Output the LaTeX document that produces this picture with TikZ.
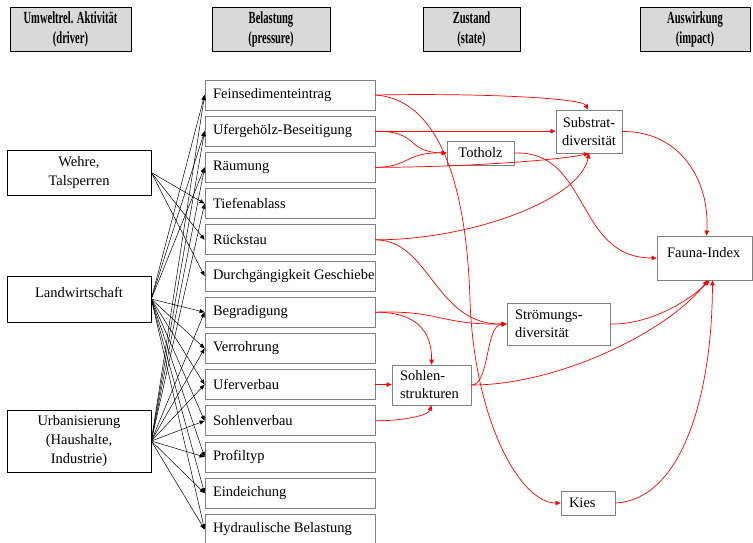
\documentclass[tikz,border=0pt]{standalone}
\usepackage{fontspec}
\setmainfont{Liberation Serif}
\newfontfamily\hdrfont[FakeStretch=0.62]{Liberation Serif}
\usetikzlibrary{arrows.meta}
\definecolor{boxgray}{RGB}{128,128,128}
\definecolor{hdrfill}{RGB}{217,217,217}

\begin{document}
\begin{tikzpicture}[x=1pt,y=-1pt,
  every node/.style={font=\fontsize{14.5}{19}\selectfont, inner sep=0pt},
  hdr/.style={draw=black, fill=hdrfill, line width=0.8pt, minimum width=#1,
    minimum height=44, align=center, font=\hdrfont\bfseries\fontsize{17}{20}\selectfont},
  driver/.style={draw=black, line width=0.6pt, minimum width=144, align=center},
  press/.style={draw=boxgray, line width=0.8pt, minimum width=170, minimum height=30},
  stbox/.style={draw=boxgray, line width=0.8pt},
  blk/.style={-{Triangle[length=5pt,width=4pt]}, line width=0.5pt},
  redarr/.style={red, line width=0.7pt, -{Triangle[length=5pt,width=4.5pt]}},
]
\newcommand\ptext[1]{\makebox[154pt][l]{\raisebox{-1pt}{#1}}}
\useasboundingbox (0,0) rectangle (753,542);
\clip (0,0) rectangle (753,542);

% column headers
\node[hdr=121] (h1) at (70.5,29) {Umweltrel. Aktivität\\(driver)};
\node[hdr=118] (h2) at (271,29) {Belastung\\(pressure)};
\node[hdr=97]  (h3) at (471.5,29) {Zustand\\(state)};
\node[hdr=110] (h4) at (695,29) {Auswirkung\\(impact)};

% drivers
\node[driver, minimum height=45] (wehre) at (79,172.5) {Wehre,\\Talsperren};
\node[driver, minimum height=46] (landw) at (79,299) {Landwirtschaft\\[-5pt]~};
\node[driver, minimum height=62] (urban) at (79,441) {Urbanisierung\\(Haushalte,\\Industrie)};

% pressures
\node[press] (fein)   at (290,95)    {\ptext{Feinsedimenteintrag}};
\node[press] (ufer)   at (290,131.2) {\ptext{Ufergehölz-Beseitigung}};
\node[press] (raeum)  at (290,167.4) {\ptext{Räumung}};
\node[press] (tief)   at (290,203.6) {\ptext{Tiefenablass}};
\node[press] (rueck)  at (290,239.8) {\ptext{Rückstau}};
\node[press] (durch)  at (290,276)   {\ptext{Durchgängigkeit Geschiebe}};
\node[press] (begr)   at (290,312.2) {\ptext{Begradigung}};
\node[press] (verr)   at (290,348.4) {\ptext{Verrohrung}};
\node[press] (uferv)  at (290,384.6) {\ptext{Uferverbau}};
\node[press] (sohlv)  at (290,420.8) {\ptext{Sohlenverbau}};
\node[press] (profil) at (290,457)   {\ptext{Profiltyp}};
\node[press] (deich)  at (290,493.2) {\ptext{Eindeichung}};
\node[press] (hydr)   at (290,529.4) {\ptext{Hydraulische Belastung}};

% states and impact
\node[stbox, minimum width=67, minimum height=24] (totholz) at (480.5,153) {Totholz};
\node[stbox, minimum width=66, minimum height=43, align=center,
  font=\fontsize{14.5}{18}\selectfont] (substrat) at (589,131.5) {Substrat-\\diversität};
\node[stbox, inner xsep=8pt, text width=87, minimum height=42, align=left,
  font=\fontsize{14.5}{18}\selectfont] (stroem) at (558.5,324) {Strömungs-\\diversität};
\node[stbox, inner xsep=8pt, text width=63, minimum height=40, align=left,
  font=\fontsize{14.5}{18}\selectfont] (sohlen) at (431.5,385) {Sohlen-\\strukturen};
\node[stbox, inner xsep=8pt, text width=38, minimum height=24, align=left] (kies) at (588,503) {Kies};
\node[stbox, inner xsep=10pt, text width=75, minimum height=44, align=left] (fauna) at (704.5,258) {Fauna-Index\\[-7pt]~};

% drivers -> pressures
\foreach \t in {tief,rueck,durch}
  \draw[blk] (wehre.east) -- (\t.west);
\foreach \t in {fein,ufer,raeum,begr,verr,uferv,sohlv,profil,deich,hydr}
  \draw[blk] (landw.east) -- (\t.west);
\foreach \t in {fein,ufer,raeum,tief,begr,verr,uferv,sohlv,profil,deich,hydr}
  \draw[blk] (urban.east) -- (\t.west);

% pressures -> states
\draw[redarr] (fein.east) .. controls (480,93) and (582,98) .. ([xshift=-1pt]substrat.north);
\draw[redarr] (fein.east) .. controls (445,100) and (467,200) .. (470,300)
  .. controls (474,420) and (520,503) .. (kies.west);
\draw[redarr] (ufer.east) -- (ufer.east -| substrat.west);
\draw[redarr] (ufer.east) .. controls (420,131) and (405,152) .. (totholz.west);
\draw[redarr] (raeum.east) .. controls (410,167) and (405,152) .. (totholz.west);
\draw[redarr] (raeum.east) .. controls (470,167) and (560,160) .. (substrat.south);
\draw[redarr] (rueck.east) .. controls (470,240) and (580,200) .. (substrat.south);
\draw[redarr] (rueck.east) .. controls (430,240) and (435,325) .. (stroem.west);
\draw[redarr] (begr.east) .. controls (440,310) and (440,325) .. (stroem.west);
\draw[redarr] (begr.east) .. controls (415,312) and (432,330) .. (sohlen.north);
\draw[redarr] (uferv.east) -- (uferv.east -| sohlen.west);
\draw[redarr] (sohlv.east) .. controls (400,421) and (428,416) .. (sohlen.south);
\draw[redarr] (sohlen.east) .. controls (490,385) and (485,325) .. (stroem.west);

% states -> impact
\draw[redarr] (totholz.east) .. controls (590,150) and (575,258) .. (fauna.west);
\draw[redarr] (substrat.east) .. controls (680,131) and (710,180) .. ([xshift=2pt]fauna.north);
\draw[redarr] (sohlen.east) .. controls (560,385) and (670,330) .. ([xshift=3pt]fauna.south);
\draw[redarr] (stroem.east) .. controls (650,325) and (690,300) .. ([xshift=5pt]fauna.south);
\draw[redarr] (kies.east) .. controls (680,500) and (712,400) .. ([xshift=8pt]fauna.south);
\end{tikzpicture}
\end{document}
